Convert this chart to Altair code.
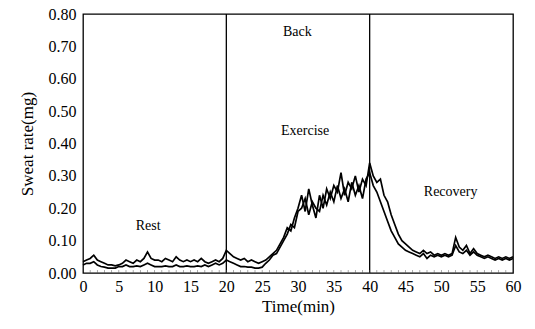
import altair as alt
import pandas as pd

# time grid in minutes (0.5 min step)
times = [i * 0.5 for i in range(121)]

series_a = [
    0.035, 0.04, 0.045, 0.055, 0.04, 0.035, 0.03, 0.025, 0.025, 0.022, 0.025,
    0.03, 0.04, 0.035, 0.03, 0.04, 0.035, 0.045, 0.065, 0.045, 0.04,
    0.04, 0.035, 0.045, 0.04, 0.035, 0.05, 0.04, 0.035, 0.04, 0.035,
    0.04, 0.035, 0.045, 0.035, 0.03, 0.035, 0.04, 0.035, 0.045, 0.07,
    0.06, 0.05, 0.045, 0.04, 0.045, 0.035, 0.04, 0.035, 0.03, 0.035,
    0.04, 0.05, 0.06, 0.07, 0.09, 0.11, 0.14, 0.13, 0.17, 0.2,
    0.24, 0.19, 0.26, 0.21, 0.17, 0.24, 0.2, 0.26, 0.23, 0.27,
    0.25, 0.31, 0.24, 0.28, 0.26, 0.3, 0.25, 0.29, 0.27, 0.34,
    0.3, 0.28, 0.29, 0.24, 0.22, 0.18, 0.15, 0.12, 0.1, 0.09,
    0.08, 0.07, 0.065, 0.06, 0.07, 0.06, 0.065, 0.055, 0.06, 0.055,
    0.06, 0.055, 0.06, 0.11, 0.08, 0.07, 0.085, 0.06, 0.075, 0.06,
    0.055, 0.05, 0.055, 0.05, 0.045, 0.05, 0.045, 0.05, 0.045, 0.05,
]

series_b = [
    0.025, 0.03, 0.03, 0.035, 0.025, 0.02, 0.018, 0.015, 0.015, 0.015, 0.02,
    0.02, 0.025, 0.02, 0.02, 0.022, 0.02, 0.025, 0.03, 0.025, 0.02,
    0.02, 0.02, 0.022, 0.02, 0.02, 0.025, 0.02, 0.02, 0.022, 0.02,
    0.02, 0.022, 0.02, 0.025, 0.02, 0.025, 0.03, 0.025, 0.03, 0.04,
    0.035, 0.03, 0.025, 0.02, 0.02, 0.018, 0.018, 0.015, 0.015, 0.018,
    0.03, 0.04, 0.055, 0.06, 0.08, 0.1, 0.12, 0.15, 0.14, 0.19,
    0.2, 0.23, 0.18, 0.22, 0.2, 0.19, 0.24, 0.21, 0.25, 0.22,
    0.27, 0.23, 0.26, 0.22, 0.28, 0.24, 0.27, 0.23, 0.29, 0.31,
    0.27, 0.25, 0.22, 0.19, 0.16, 0.13, 0.11, 0.09, 0.08, 0.07,
    0.065, 0.06, 0.055, 0.05, 0.06, 0.045, 0.055, 0.05, 0.055, 0.05,
    0.055, 0.05, 0.055, 0.085, 0.065, 0.06, 0.07, 0.055, 0.065, 0.055,
    0.05, 0.045, 0.05, 0.045, 0.04, 0.045, 0.04, 0.045, 0.04, 0.045,
]

phase_bounds = [20, 40]
label_texts = ["Rest", "Back", "Exercise", "Recovery"]
label_x = [9.1, 29.9, 31.0, 51.3]
label_y = [0.145, 0.745, 0.44, 0.25]
minor_ticks = list(range(1, 60))

x_ticks = list(range(0, 61, 5))
y_ticks = [round(i * 0.1, 1) for i in range(9)]

FONT = "Liberation Serif"

df = pd.DataFrame({
    "t": times * 2,
    "v": series_a + series_b,
    "s": ["A"] * len(times) + ["B"] * len(times),
})

xscale = alt.Scale(domain=[0, 60], nice=False)
yscale = alt.Scale(domain=[0, 0.8], nice=False)

x_axis = alt.Axis(values=x_ticks, format="d", grid=False, ticks=False,
                  domain=False, labelFont=FONT, labelFontSize=16,
                  labelColor="black", labelPadding=5, labelOverlap=False,
                  labelFlush=False,
                  titleFont=FONT, titleFontSize=17, titleFontWeight="normal",
                  titleColor="black", titlePadding=4)
y_axis = alt.Axis(values=y_ticks, format=".2f", grid=False, ticks=False,
                  domain=False, labelFont=FONT, labelFontSize=16,
                  labelColor="black", labelPadding=7, labelOverlap=False,
                  labelFlush=False,
                  titleFont=FONT, titleFontSize=17, titleFontWeight="normal",
                  titleColor="black", titlePadding=12)


def X(field):
    return alt.X(field, scale=xscale, axis=x_axis, title="Time(min)")


def Y(field):
    return alt.Y(field, scale=yscale, axis=y_axis, title="Sweat rate(mg)")


lines = alt.Chart(df).mark_line(color="black", strokeWidth=1.7).encode(
    x=X("t:Q"), y=Y("v:Q"), detail="s:N",
)

rules = alt.Chart(pd.DataFrame({"x": phase_bounds})).mark_rule(
    color="black", strokeWidth=1.3
).encode(x=X("x:Q"))

ticks = alt.Chart(pd.DataFrame({"x": minor_ticks, "y": [0.0] * len(minor_ticks)})).mark_tick(
    color="#555555", orient="vertical", size=3, thickness=0.7, yOffset=-1.5
).encode(x=X("x:Q"), y=Y("y:Q"))

labels = alt.Chart(pd.DataFrame({"txt": label_texts, "x": label_x, "y": label_y})).mark_text(
    font=FONT, fontSize=14, color="black"
).encode(x=X("x:Q"), y=Y("y:Q"), text="txt:N")

chart = alt.layer(lines, rules, ticks, labels).properties(
    width=430, height=259,
    background="white",
    autosize=alt.AutoSizeParams(type="none"),
    padding={"left": 83, "top": 14, "right": 22, "bottom": 56},
).configure_view(stroke="black", strokeWidth=1.3)

chart.save("out.html", embed_options={"renderer": "svg", "actions": False})
